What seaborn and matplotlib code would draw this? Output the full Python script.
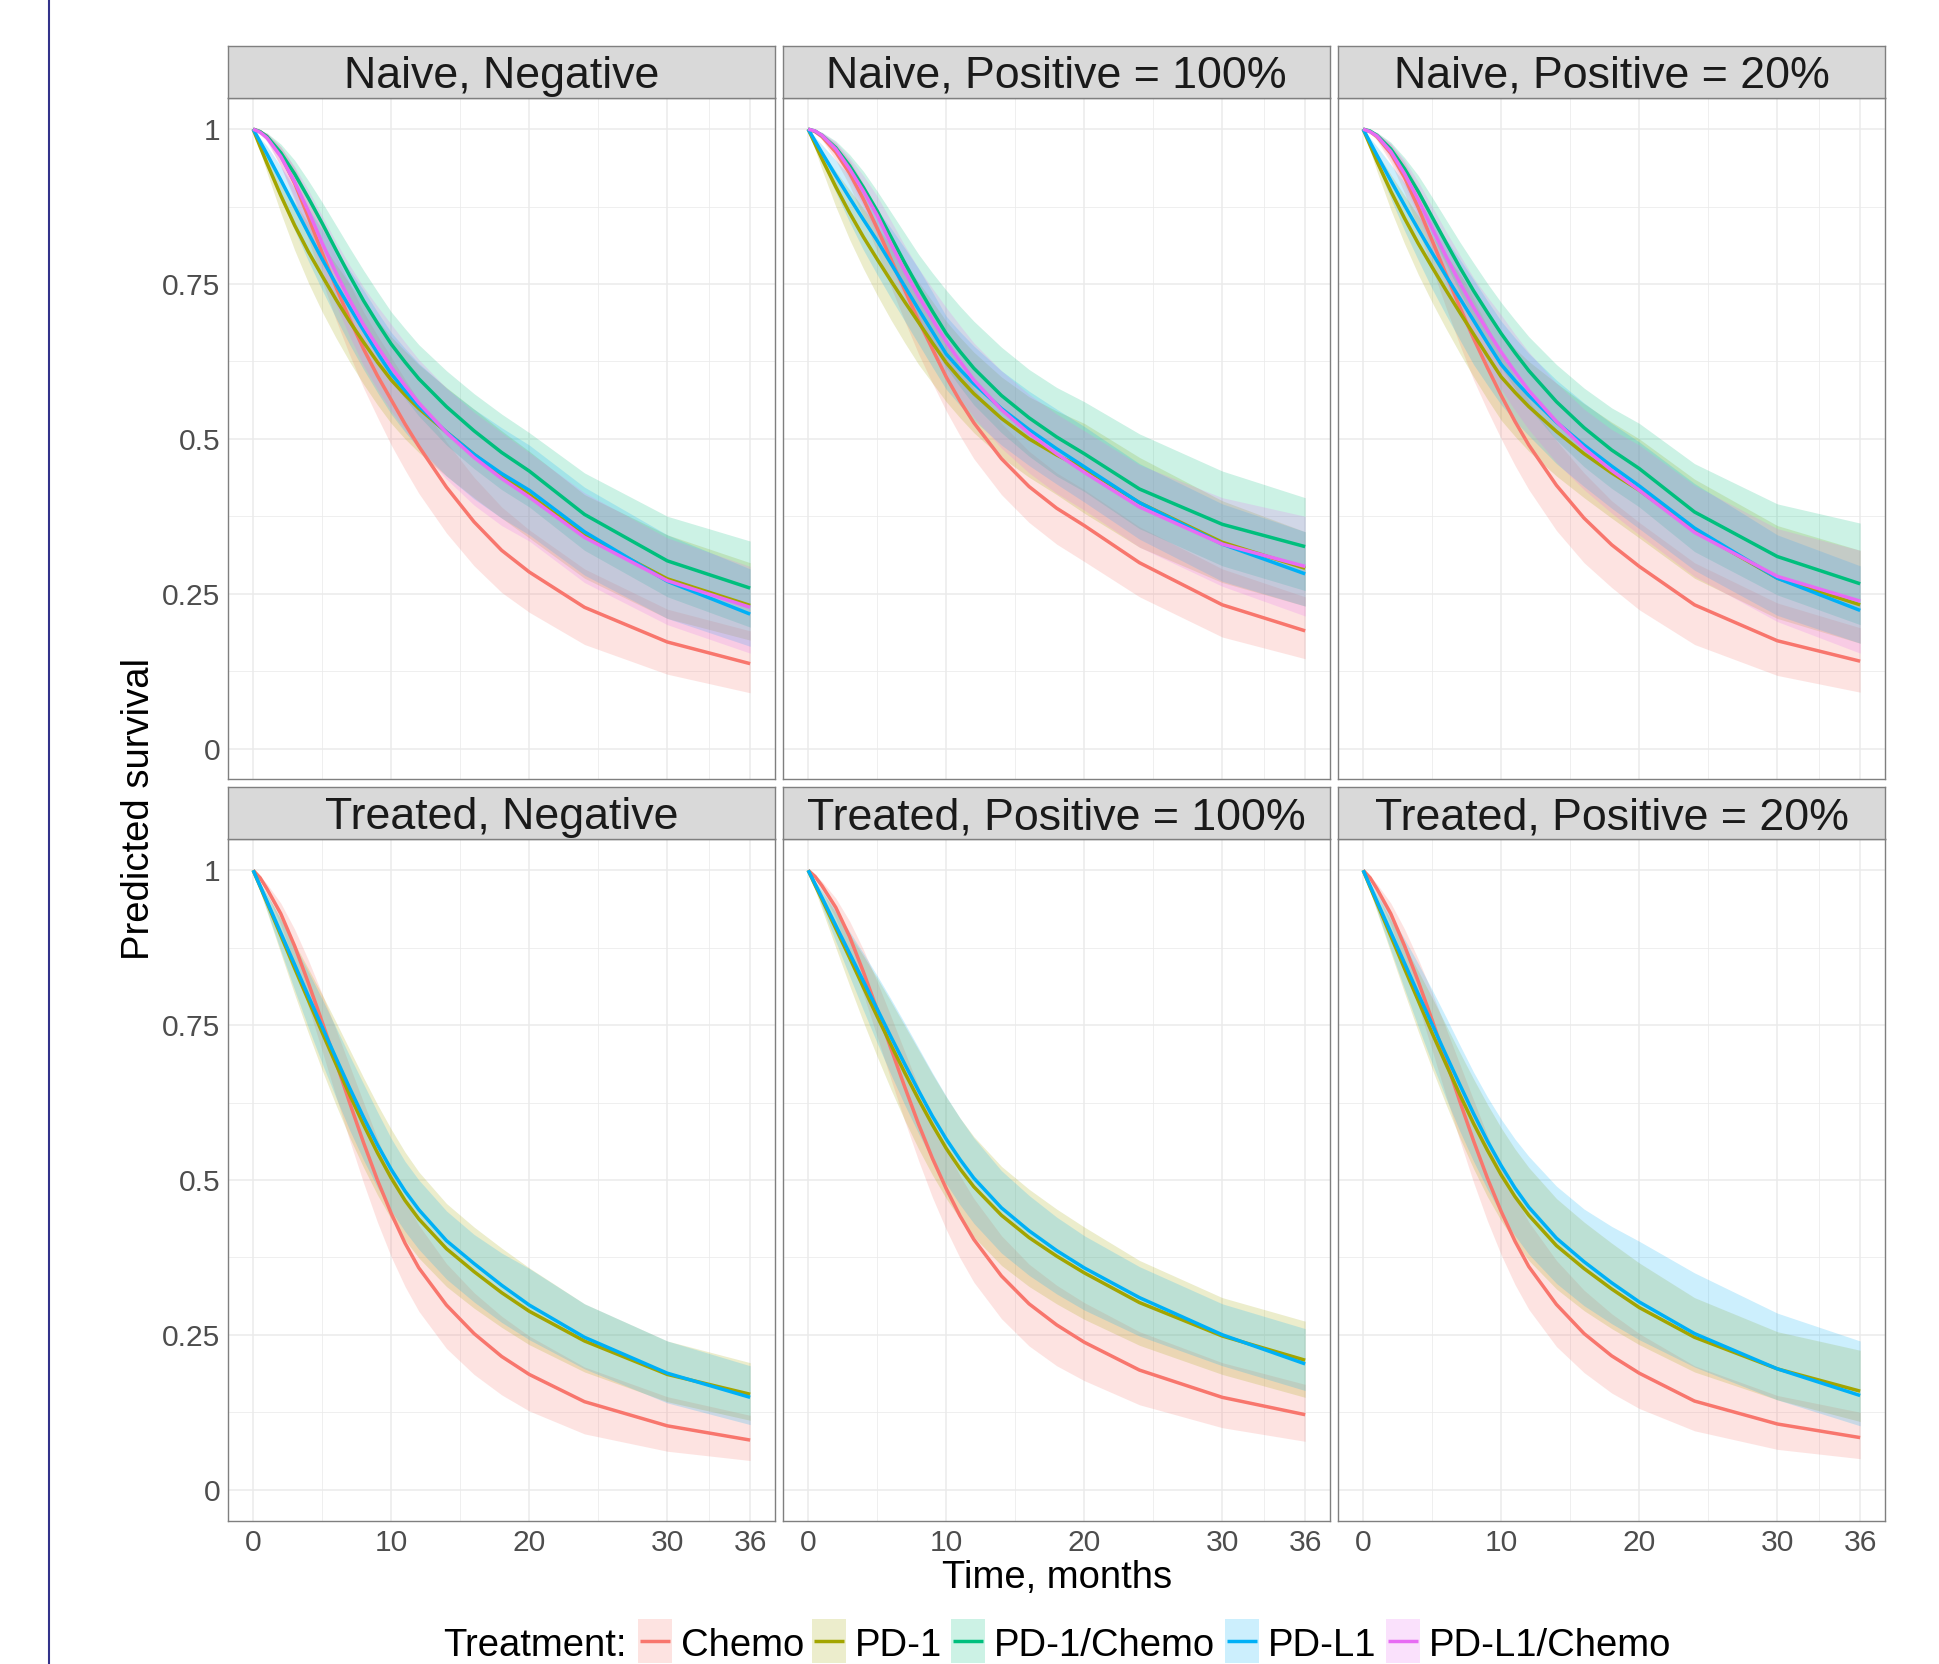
import numpy as np
import pandas as pd
import matplotlib
matplotlib.use('Agg')
import matplotlib.pyplot as plt
import seaborn as sns
from matplotlib.lines import Line2D
from matplotlib.patches import Rectangle

sns.set_style('white')
plt.rcParams['font.family'] = ['Liberation Sans', 'DejaVu Sans']

# ---------------- data ----------------
months = [0, 0.5, 1, 2, 3, 4, 5, 6, 7, 8, 9, 10, 11, 12, 14, 16, 18, 20, 24, 30, 36]
treatments = ['Chemo', 'PD-1', 'PD-1/Chemo', 'PD-L1', 'PD-L1/Chemo']
colors = ['#F8766D', '#A3A500', '#00BF7D', '#00B0F6', '#E76BF3']
panel_titles = ['Naive, Negative', 'Naive, Positive = 100%', 'Naive, Positive = 20%',
                'Treated, Negative', 'Treated, Positive = 100%', 'Treated, Positive = 20%']
x_ticks = [0, 10, 20, 30, 36]
x_minor = [5, 15, 25, 33]
y_ticks = [0, 0.25, 0.5, 0.75, 1]
y_tick_labels = ['0', '0.25', '0.5', '0.75', '1']
y_minor = [0.125, 0.375, 0.625, 0.875]

# Naive, Negative
nn_chemo    = [1, .996, .988, .958, .913, .858, .80, .745, .693, .645, .602, .563, .524, .488, .422, .366, .32, .285, .228, .172, .137]
nn_chemo_lo = [1, .994, .982, .94, .885, .822, .755, .692, .635, .582, .535, .49, .45, .412, .348, .295, .252, .22, .168, .12, .09]
nn_chemo_hi = [1, .998, .993, .972, .938, .892, .845, .796, .75, .705, .667, .632, .596, .562, .495, .438, .39, .353, .29, .225, .19]
nn_pd1      = [1, .972, .945, .893, .845, .802, .763, .725, .689, .656, .624, .595, .571, .549, .511, .475, .441, .41, .344, .274, .231]
nn_pd1_lo   = [1, .965, .93, .865, .805, .752, .705, .663, .624, .588, .555, .525, .50, .478, .44, .405, .372, .34, .275, .21, .175]
nn_pd1_hi   = [1, .98, .96, .92, .882, .848, .815, .782, .75, .72, .692, .665, .642, .62, .583, .548, .513, .48, .41, .345, .30]
nn_pd1c     = [1, .996, .988, .962, .928, .889, .848, .805, .763, .723, .687, .653, .624, .597, .552, .513, .478, .448, .378, .303, .259]
nn_pd1c_lo  = [1, .994, .983, .95, .908, .861, .812, .764, .717, .672, .632, .595, .565, .537, .49, .452, .418, .39, .32, .245, .196]
nn_pd1c_hi  = [1, .998, .994, .976, .95, .917, .882, .845, .808, .772, .738, .705, .678, .652, .61, .573, .54, .51, .445, .375, .335]
nn_pdl1     = [1, .98, .96, .918, .875, .832, .79, .75, .712, .675, .639, .605, .578, .553, .511, .475, .444, .417, .35, .27, .217]
nn_pdl1_lo  = [1, .972, .945, .89, .837, .787, .74, .695, .652, .612, .575, .54, .511, .485, .44, .403, .372, .345, .28, .21, .165]
nn_pdl1_hi  = [1, .986, .973, .94, .905, .872, .838, .805, .772, .74, .705, .672, .646, .622, .582, .548, .518, .49, .422, .345, .29]
nn_pdl1c    = [1, .995, .986, .956, .915, .868, .816, .768, .724, .684, .649, .616, .586, .558, .51, .47, .436, .406, .341, .271, .228]
nn_pdl1c_lo = [1, .993, .98, .94, .889, .832, .772, .716, .665, .618, .58, .545, .514, .485, .435, .393, .36, .335, .268, .20, .154]
nn_pdl1c_hi = [1, .998, .993, .971, .94, .902, .86, .818, .78, .745, .714, .685, .656, .628, .582, .543, .51, .478, .413, .34, .294]

# Naive, Positive = 100%
np100_chemo    = [1, .996, .988, .963, .929, .887, .84, .79, .74, .691, .645, .60, .561, .526, .468, .423, .388, .36, .30, .232, .19]
np100_chemo_lo = [1, .994, .983, .95, .909, .858, .802, .745, .69, .637, .59, .545, .505, .468, .41, .365, .33, .302, .245, .18, .145]
np100_chemo_hi = [1, .998, .994, .977, .95, .912, .87, .827, .785, .742, .698, .655, .617, .582, .525, .48, .445, .418, .358, .29, .245]
np100_pd1      = [1, .976, .952, .907, .865, .826, .79, .755, .721, .688, .655, .623, .597, .573, .533, .50, .474, .452, .397, .333, .291]
np100_pd1_lo   = [1, .967, .935, .875, .822, .775, .732, .692, .655, .62, .59, .56, .534, .51, .47, .438, .41, .38, .325, .268, .23]
np100_pd1_hi   = [1, .982, .965, .932, .902, .872, .842, .812, .782, .753, .722, .69, .664, .64, .60, .568, .545, .525, .47, .40, .35]
np100_pd1c     = [1, .997, .99, .97, .941, .906, .868, .826, .784, .744, .706, .67, .641, .614, .57, .534, .503, .476, .419, .362, .326]
np100_pd1c_lo  = [1, .995, .986, .96, .924, .882, .835, .787, .74, .695, .654, .615, .584, .555, .51, .472, .44, .415, .355, .295, .255]
np100_pd1c_hi  = [1, .998, .995, .981, .959, .932, .90, .866, .832, .798, .768, .74, .714, .69, .648, .612, .583, .56, .508, .448, .405]
np100_pdl1     = [1, .981, .962, .925, .889, .854, .82, .783, .746, .709, .673, .637, .612, .589, .549, .515, .484, .455, .397, .33, .282]
np100_pdl1_lo  = [1, .974, .948, .898, .85, .805, .765, .727, .69, .653, .616, .58, .554, .53, .49, .457, .427, .398, .338, .27, .23]
np100_pdl1_hi  = [1, .987, .975, .95, .925, .898, .87, .84, .808, .775, .737, .698, .673, .65, .61, .577, .548, .52, .46, .395, .35]
np100_pdl1c    = [1, .997, .99, .968, .936, .90, .861, .815, .771, .73, .693, .657, .625, .595, .547, .509, .476, .446, .39, .33, .294]
np100_pdl1c_lo = [1, .995, .986, .958, .919, .875, .828, .778, .728, .682, .64, .60, .566, .535, .485, .445, .412, .385, .325, .262, .214]
np100_pdl1c_hi = [1, .998, .995, .979, .954, .925, .892, .852, .812, .775, .743, .712, .683, .655, .61, .572, .54, .513, .458, .405, .375]

# Naive, Positive = 20%
np20_chemo    = [1, .996, .988, .961, .922, .873, .82, .766, .713, .662, .615, .57, .528, .49, .425, .372, .329, .294, .232, .174, .141]
np20_chemo_lo = [1, .994, .982, .946, .897, .838, .775, .712, .652, .595, .546, .50, .457, .418, .352, .30, .26, .224, .168, .118, .091]
np20_chemo_hi = [1, .998, .994, .976, .946, .905, .86, .815, .77, .726, .682, .64, .60, .562, .497, .445, .40, .365, .30, .235, .195]
np20_pd1      = [1, .974, .948, .90, .856, .815, .777, .74, .704, .669, .634, .60, .575, .552, .512, .476, .445, .417, .352, .275, .232]
np20_pd1_lo   = [1, .966, .932, .87, .815, .765, .72, .678, .638, .60, .564, .53, .504, .48, .44, .405, .372, .34, .275, .21, .17]
np20_pd1_hi   = [1, .981, .962, .927, .893, .86, .828, .797, .766, .736, .702, .67, .646, .625, .59, .557, .527, .50, .435, .36, .32]
np20_pd1c     = [1, .997, .99, .968, .936, .899, .858, .817, .777, .739, .704, .67, .639, .61, .56, .518, .482, .452, .382, .31, .266]
np20_pd1c_lo  = [1, .995, .986, .958, .919, .875, .828, .782, .737, .694, .654, .615, .581, .55, .498, .455, .42, .39, .318, .248, .20]
np20_pd1c_hi  = [1, .998, .995, .979, .954, .925, .89, .854, .818, .784, .751, .72, .692, .665, .62, .582, .55, .525, .46, .395, .364]
np20_pdl1     = [1, .979, .958, .917, .877, .838, .80, .763, .727, .691, .655, .62, .594, .57, .527, .49, .456, .424, .356, .275, .223]
np20_pdl1_lo  = [1, .971, .942, .888, .836, .788, .742, .70, .66, .62, .587, .555, .529, .505, .46, .423, .388, .355, .288, .215, .17]
np20_pdl1_hi  = [1, .986, .972, .943, .913, .884, .855, .823, .79, .757, .723, .69, .663, .638, .595, .558, .525, .495, .428, .345, .295]
np20_pdl1c    = [1, .996, .989, .964, .928, .886, .84, .795, .752, .712, .675, .64, .608, .578, .528, .485, .449, .417, .349, .278, .238]
np20_pdl1c_lo = [1, .995, .984, .952, .909, .86, .805, .752, .702, .655, .617, .58, .546, .515, .462, .418, .38, .345, .278, .205, .154]
np20_pdl1c_hi = [1, .998, .994, .977, .95, .915, .875, .835, .797, .76, .729, .70, .669, .64, .59, .548, .515, .49, .425, .355, .32]

# Treated, Negative
tn_chemo    = [1, .988, .97, .93, .878, .818, .755, .69, .624, .56, .50, .446, .398, .358, .298, .252, .215, .186, .142, .103, .08]
tn_chemo_lo = [1, .984, .962, .912, .85, .78, .708, .635, .563, .495, .432, .376, .328, .288, .228, .186, .153, .127, .09, .062, .047]
tn_chemo_hi = [1, .991, .978, .947, .905, .855, .80, .743, .684, .625, .567, .514, .467, .427, .365, .318, .28, .248, .198, .15, .12]
tn_pd1      = [1, .974, .948, .895, .842, .79, .738, .687, .637, .589, .544, .503, .467, .437, .389, .352, .318, .288, .24, .186, .154]
tn_pd1_lo   = [1, .966, .933, .866, .80, .737, .677, .621, .568, .52, .476, .437, .403, .374, .328, .293, .262, .234, .19, .142, .112]
tn_pd1_hi   = [1, .98, .961, .922, .882, .841, .799, .755, .71, .665, .622, .582, .545, .513, .462, .424, .39, .358, .30, .24, .205]
tn_pdl1     = [1, .975, .95, .899, .848, .797, .747, .697, .648, .601, .557, .517, .482, .452, .402, .365, .33, .298, .246, .188, .149]
tn_pdl1_lo  = [1, .967, .935, .87, .807, .746, .688, .633, .58, .532, .488, .45, .417, .388, .34, .303, .27, .242, .195, .14, .105]
tn_pdl1_hi  = [1, .981, .962, .921, .879, .836, .792, .746, .70, .655, .61, .567, .53, .50, .45, .412, .382, .357, .30, .24, .20]

# Treated, Positive = 100%
tp100_chemo    = [1, .99, .975, .94, .893, .836, .775, .712, .65, .59, .535, .486, .442, .404, .345, .30, .266, .238, .193, .149, .121]
tp100_chemo_lo = [1, .986, .967, .922, .865, .80, .731, .662, .595, .531, .472, .42, .374, .335, .276, .232, .20, .176, .137, .10, .078]
tp100_chemo_hi = [1, .993, .982, .955, .918, .872, .82, .764, .707, .651, .598, .55, .507, .47, .41, .364, .33, .302, .255, .205, .17]
tp100_pd1      = [1, .976, .953, .906, .859, .811, .764, .718, .673, .63, .589, .551, .518, .489, .443, .407, .377, .35, .302, .248, .209]
tp100_pd1_lo   = [1, .968, .937, .875, .814, .755, .699, .646, .596, .55, .508, .47, .437, .408, .362, .328, .30, .275, .233, .186, .149]
tp100_pd1_hi   = [1, .983, .966, .932, .897, .862, .826, .788, .749, .71, .671, .634, .60, .57, .522, .485, .453, .424, .37, .31, .272]
tp100_pdl1     = [1, .978, .956, .911, .866, .821, .776, .731, .687, .644, .603, .566, .533, .503, .455, .418, .386, .358, .31, .25, .203]
tp100_pdl1_lo  = [1, .971, .942, .885, .829, .774, .721, .67, .621, .575, .532, .494, .46, .43, .382, .346, .316, .29, .248, .20, .16]
tp100_pdl1_hi  = [1, .984, .968, .935, .901, .866, .83, .792, .753, .713, .673, .635, .60, .568, .515, .475, .44, .41, .36, .30, .26]

# Treated, Positive = 20%
tp20_chemo    = [1, .988, .97, .93, .878, .82, .758, .693, .627, .563, .503, .449, .401, .36, .299, .252, .216, .188, .143, .106, .084]
tp20_chemo_lo = [1, .984, .962, .912, .85, .781, .709, .636, .564, .496, .434, .379, .331, .291, .231, .189, .156, .131, .095, .065, .05]
tp20_chemo_hi = [1, .991, .978, .947, .905, .856, .802, .745, .687, .629, .572, .52, .473, .432, .37, .322, .284, .252, .20, .152, .125]
tp20_pd1      = [1, .973, .947, .894, .841, .789, .737, .687, .638, .591, .548, .508, .473, .443, .394, .357, .324, .294, .246, .195, .159]
tp20_pd1_lo   = [1, .966, .933, .867, .802, .739, .679, .622, .568, .518, .473, .434, .40, .37, .324, .289, .26, .234, .19, .145, .11]
tp20_pd1_hi   = [1, .98, .96, .92, .879, .837, .794, .75, .706, .663, .622, .584, .55, .52, .47, .432, .398, .366, .31, .255, .225]
tp20_pdl1     = [1, .975, .95, .90, .85, .80, .751, .702, .654, .607, .563, .523, .487, .456, .406, .368, .334, .303, .252, .195, .152]
tp20_pdl1_lo  = [1, .967, .935, .871, .808, .747, .688, .632, .579, .53, .485, .445, .41, .38, .333, .297, .268, .242, .198, .145, .103]
tp20_pdl1_hi  = [1, .982, .964, .927, .889, .849, .807, .763, .718, .674, .634, .598, .566, .538, .49, .453, .425, .401, .35, .285, .24]

# ---------------- assemble long table ----------------
panel_series = [
    {'Chemo': (nn_chemo, nn_chemo_lo, nn_chemo_hi), 'PD-1': (nn_pd1, nn_pd1_lo, nn_pd1_hi),
     'PD-1/Chemo': (nn_pd1c, nn_pd1c_lo, nn_pd1c_hi), 'PD-L1': (nn_pdl1, nn_pdl1_lo, nn_pdl1_hi),
     'PD-L1/Chemo': (nn_pdl1c, nn_pdl1c_lo, nn_pdl1c_hi)},
    {'Chemo': (np100_chemo, np100_chemo_lo, np100_chemo_hi), 'PD-1': (np100_pd1, np100_pd1_lo, np100_pd1_hi),
     'PD-1/Chemo': (np100_pd1c, np100_pd1c_lo, np100_pd1c_hi), 'PD-L1': (np100_pdl1, np100_pdl1_lo, np100_pdl1_hi),
     'PD-L1/Chemo': (np100_pdl1c, np100_pdl1c_lo, np100_pdl1c_hi)},
    {'Chemo': (np20_chemo, np20_chemo_lo, np20_chemo_hi), 'PD-1': (np20_pd1, np20_pd1_lo, np20_pd1_hi),
     'PD-1/Chemo': (np20_pd1c, np20_pd1c_lo, np20_pd1c_hi), 'PD-L1': (np20_pdl1, np20_pdl1_lo, np20_pdl1_hi),
     'PD-L1/Chemo': (np20_pdl1c, np20_pdl1c_lo, np20_pdl1c_hi)},
    {'Chemo': (tn_chemo, tn_chemo_lo, tn_chemo_hi), 'PD-1': (tn_pd1, tn_pd1_lo, tn_pd1_hi),
     'PD-L1': (tn_pdl1, tn_pdl1_lo, tn_pdl1_hi)},
    {'Chemo': (tp100_chemo, tp100_chemo_lo, tp100_chemo_hi), 'PD-1': (tp100_pd1, tp100_pd1_lo, tp100_pd1_hi),
     'PD-L1': (tp100_pdl1, tp100_pdl1_lo, tp100_pdl1_hi)},
    {'Chemo': (tp20_chemo, tp20_chemo_lo, tp20_chemo_hi), 'PD-1': (tp20_pd1, tp20_pd1_lo, tp20_pd1_hi),
     'PD-L1': (tp20_pdl1, tp20_pdl1_lo, tp20_pdl1_hi)},
]
rows = []
for title, series in zip(panel_titles, panel_series):
    for trt, (est, lo, hi) in series.items():
        for m, e, l, h in zip(months, est, lo, hi):
            rows.append({'panel': title, 'Treatment': trt, 'month': m, 'surv': e, 'lo': l, 'hi': h})
df = pd.DataFrame(rows)
palette = dict(zip(treatments, colors))

# ---------------- layout ----------------
W, H = 1939, 1664
fig = plt.figure(figsize=(W / 100, H / 100), dpi=100)
fig.patch.set_facecolor('white')

def fx(x):
    return x / W

def fy(y):
    return 1 - y / H

col_left = [228.3, 783.3, 1338.3]
row_top = [98.2, 839.3]
pw, ph, sh = 546.7, 681.3, 52.4
BORDER = '#7F7F7F'
LW = 2.5

for i, title in enumerate(panel_titles):
    r, c = divmod(i, 3)
    l, t = col_left[c], row_top[r]
    ax = fig.add_axes([fx(l), fy(t + ph), pw / W, ph / H])
    sub = df[df['panel'] == title]
    present = [tr for tr in treatments if tr in set(sub['Treatment'])]
    for tr in present:
        s = sub[sub['Treatment'] == tr]
        ax.fill_between(s['month'], s['lo'], s['hi'], color=palette[tr], alpha=0.2,
                        linewidth=0, zorder=2)
    sns.lineplot(data=sub, x='month', y='surv', hue='Treatment', hue_order=present,
                 palette=palette, estimator=None, errorbar=None, legend=False, ax=ax,
                 linewidth=LW, zorder=3, solid_capstyle='butt', solid_joinstyle='round')
    ax.set_xlabel('')
    ax.set_ylabel('')
    ax.set_xlim(-1.8, 37.8)
    ax.set_ylim(-0.05, 1.05)
    ax.set_xticks(x_ticks)
    ax.set_xticks(x_minor, minor=True)
    ax.set_yticks(y_ticks)
    ax.set_yticklabels(y_tick_labels)
    ax.set_yticks(y_minor, minor=True)
    ax.grid(True, which='major', color='#EBEBEB', linewidth=1.1)
    ax.grid(True, which='minor', color='#EBEBEB', linewidth=0.55)
    ax.set_axisbelow(True)
    ax.tick_params(which='minor', length=0)
    ax.tick_params(which='major', length=2.6, width=0.8, color='#333333',
                   labelsize=21.6, labelcolor='#4D4D4D', pad=3.3)
    if r == 0:
        ax.tick_params(axis='x', length=0, labelbottom=False)
    if c > 0:
        ax.tick_params(axis='y', length=0, labelleft=False)
    for sp in ax.spines.values():
        sp.set_color(BORDER)
        sp.set_linewidth(1.0)

    sax = fig.add_axes([fx(l), fy(t), pw / W, sh / H])
    sax.set_facecolor('#D9D9D9')
    sax.set_xticks([])
    sax.set_yticks([])
    for sp in sax.spines.values():
        sp.set_color(BORDER)
        sp.set_linewidth(1.0)
    sax.text(0.5, 0.195, title, transform=sax.transAxes, ha='center', va='baseline',
             fontsize=32.2, color='#1A1A1A')

# axis titles
fig.text(fx(139), fy(809.5), 'Predicted survival', rotation=90, ha='center', va='center',
         fontsize=27.5, color='black')
fig.text(fx(1056.7), fy(1588), 'Time, months', ha='center', va='baseline',
         fontsize=27.5, color='black')

# legend (manual, bottom)
leg_base = 1656
fig.text(fx(443), fy(leg_base), 'Treatment:', ha='left', va='baseline', fontsize=27.5, color='black')
key_x = [638, 812, 951, 1225, 1386]
key_w = 34
key_top, key_bot = 1619, 1663
line_y = 1641
for kx, tr, col in zip(key_x, treatments, colors):
    fig.add_artist(Rectangle((fx(kx), fy(key_bot)), key_w / W, (key_bot - key_top) / H,
                             transform=fig.transFigure, facecolor=col, alpha=0.2, linewidth=0))
    fig.add_artist(Line2D([fx(kx + 2), fx(kx + key_w - 2)], [fy(line_y), fy(line_y)],
                          transform=fig.transFigure, color=col, linewidth=LW,
                          solid_capstyle='butt'))
    fig.text(fx(kx + key_w + 9), fy(leg_base), tr, ha='left', va='baseline',
             fontsize=27.5, color='black')

# thin navy rule at the left edge of the page
fig.add_artist(Line2D([fx(49), fx(49)], [0, 1], transform=fig.transFigure,
                      color='#33338A', linewidth=1.5))

fig.savefig('out.png', dpi=100, facecolor='white')
